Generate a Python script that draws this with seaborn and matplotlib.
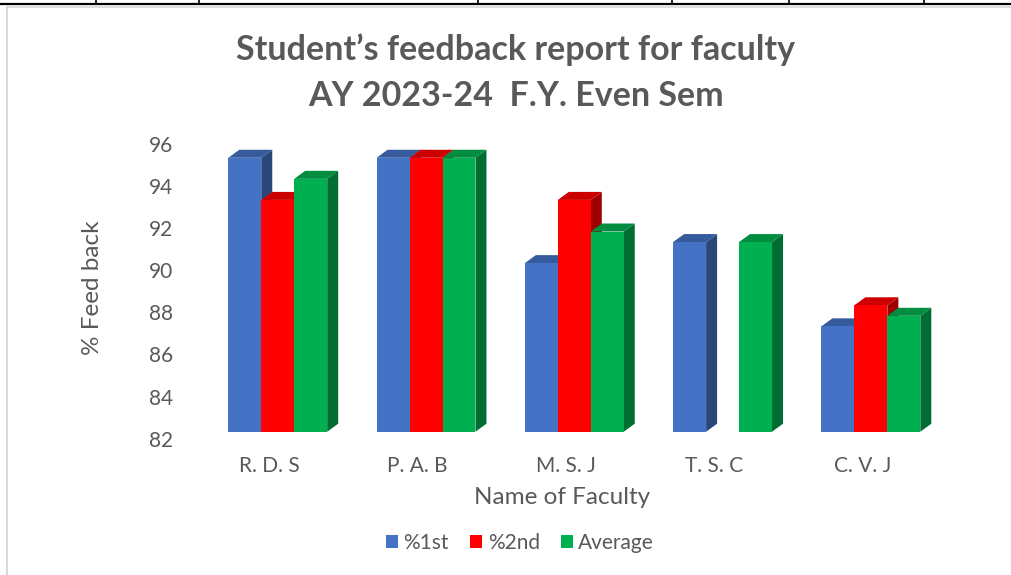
import numpy as np
import pandas as pd
import seaborn as sns
import matplotlib
matplotlib.use("Agg")
import matplotlib.pyplot as plt
from matplotlib.patches import Polygon, Patch
from matplotlib.lines import Line2D
from matplotlib.transforms import ScaledTranslation
import matplotlib.colors as mcolors

# ---- data ----
faculty = ["R. D. S", "P. A. B", "M. S. J", "T. S. C", "C. V. J"]
series = ["%1st", "%2nd", "Average"]
first_sem = [95.0, 95.0, 90.0, 91.0, 87.0]
second_sem = [93.0, 95.0, 93.0, np.nan, 88.0]
average = [94.0, 95.0, 91.5, 91.0, 87.5]
y_ticks = [82, 84, 86, 88, 90, 92, 94, 96]

colors = ["#4472C4", "#FF0000", "#00B050"]
text_col = "#595959"

df = pd.DataFrame({
    "Faculty": faculty * 3,
    "Series": [series[0]] * 5 + [series[1]] * 5 + [series[2]] * 5,
    "Value": first_sem + second_sem + average,
})

sns.set_theme(style="white")
plt.rcParams["font.family"] = ["Lato", "DejaVu Sans"]

W, H = 1011, 575
fig = plt.figure(figsize=(W / 100, H / 100), dpi=100)
ax_left, ax_right = 203.6, 945.0
ax_top, ax_bot = 136.7, 431.7
ax = fig.add_axes([ax_left / W, 1 - ax_bot / H, (ax_right - ax_left) / W, (ax_bot - ax_top) / H])

sns.barplot(data=df, x="Faculty", y="Value", hue="Series", order=faculty,
            hue_order=series, palette=colors, width=0.667, ax=ax,
            legend=False, saturation=1, linewidth=0)

ax.set_ylim(82, 96)
ax.set_xlim(-0.5, 4.5)
ax.set_yticks(y_ticks)
for s in ax.spines.values():
    s.set_visible(False)
ax.set_facecolor("white")

# ---- pseudo 3D depth faces derived from bar geometry ----
fig.canvas.draw()
dx_px, dy_px = 11.0, 8.0
inv = ax.transData.inverted()
bars = [p for p in ax.patches if np.isfinite(p.get_height()) and p.get_height() > 0]
bars.sort(key=lambda p: p.get_x())

def shade(c, f):
    r, g, b = mcolors.to_rgb(c)
    return (r * f, g * f, b * f)

def off(x, y):
    px, py = ax.transData.transform((x, y))
    return inv.transform((px + dx_px, py + dy_px))

base = ax.get_ylim()[0]
for i, p in enumerate(bars):
    x0 = p.get_x()
    x1 = x0 + p.get_width()
    top = p.get_y() + p.get_height()
    fc = p.get_facecolor()
    side = [(x1, base), (x1, top), tuple(off(x1, top)), tuple(off(x1, base))]
    topf = [(x0, top), (x1, top), tuple(off(x1, top)), tuple(off(x0, top))]
    ax.add_patch(Polygon(side, closed=True, facecolor=shade(fc, 0.62), edgecolor="none",
                         zorder=10 + 3 * i, clip_on=False))
    ax.add_patch(Polygon(topf, closed=True, facecolor=shade(fc, 0.8), edgecolor="none",
                         zorder=11 + 3 * i, clip_on=False))
    p.set_zorder(12 + 3 * i)

# ---- ticks ----
ax.tick_params(axis="y", length=0, pad=22, labelsize=15, labelcolor=text_col)
ax.tick_params(axis="x", length=0, pad=17.5, labelsize=15, labelcolor=text_col)
for lab in ax.get_yticklabels():
    lab.set_transform(lab.get_transform() + ScaledTranslation(0, -7 / 100, fig.dpi_scale_trans))
for lab in ax.get_xticklabels():
    lab.set_transform(lab.get_transform() + ScaledTranslation(-8.5 / 100, 0, fig.dpi_scale_trans))

ax_w = ax_right - ax_left
ax_h = ax_bot - ax_top
ax.set_xlabel("Name of Faculty", fontsize=17.5, color=text_col, va="center")
ax.xaxis.set_label_coords((562 - ax_left) / ax_w, (ax_bot - 498) / ax_h)
ax.set_ylabel("% Feed back", fontsize=17.5, color=text_col, va="center")
ax.yaxis.set_label_coords((92.5 - ax_left) / ax_w, (ax_bot - 288) / ax_h)

# ---- title ----
fig.text(516 / W, 1 - 50 / H, "Student\u2019s feedback report for faculty", ha="center", va="center",
         fontsize=24.5, fontweight="bold", color=text_col)
fig.text(516 / W, 1 - 96 / H, "AY 2023-24  F.Y. Even Sem", ha="center", va="center",
         fontsize=24.5, fontweight="bold", color=text_col)

# ---- legend ----
handles = [Patch(facecolor=c, edgecolor="none") for c in colors]
fig.legend(handles, series, loc="center", bbox_to_anchor=(520 / W, 1 - 543 / H), ncol=3,
           frameon=False, fontsize=15, handlelength=0.6, handleheight=0.62,
           handletextpad=0.25, columnspacing=1.0, labelcolor=text_col)

# ---- surrounding frame (page border lines) ----
fig.add_artist(Line2D([0, 1], [1 - 4 / H, 1 - 4 / H], color="black", lw=1.6))
for xv in [96, 199, 478, 672, 789, 924]:
    fig.add_artist(Line2D([xv / W, xv / W], [1, 1 - 4 / H], color="black", lw=1.2))
fig.add_artist(Line2D([6.5 / W, 1], [1 - 7 / H, 1 - 7 / H], color="#D9D9D9", lw=1.2))
fig.add_artist(Line2D([6.5 / W, 6.5 / W], [0, 1 - 7 / H], color="#D9D9D9", lw=1.5))

fig.savefig("out.png", dpi=100, facecolor="white")
